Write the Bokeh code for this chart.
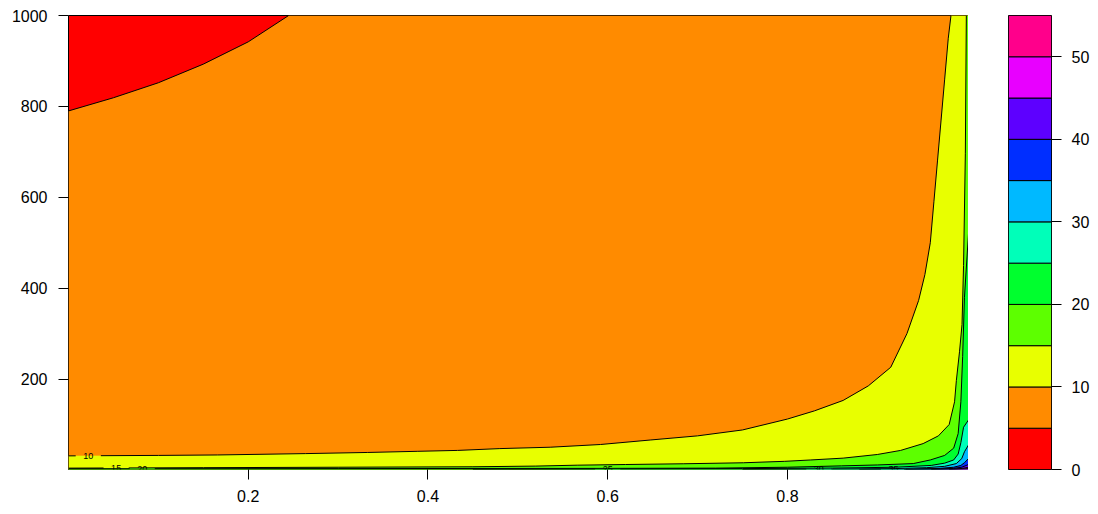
import numpy as np
from bokeh.plotting import figure
from bokeh.models import Range1d, FixedTicker
from bokeh.layouts import row
from bokeh.embed import file_html
from bokeh.resources import INLINE
from bokeh.core.properties import value

# ---- data ----
levels = [0, 5, 10, 15, 20, 25, 30, 35, 40, 45, 50, 55]
band_colors = ["#FF0000", "#FF8B00", "#E8FF00", "#5DFF00", "#00FF2E", "#00FFB9",
               "#00B9FF", "#002EFF", "#5D00FF", "#E800FF", "#FF008B"]

# contour lines (x, y); z >= level lies below/right of each curve
c5_x = [0.0, 0.05, 0.1, 0.15, 0.2, 0.245]
c5_y = [790, 819, 852, 893, 942, 1000]

c10_x = [0.0, 0.1, 0.166, 0.264, 0.333, 0.388, 0.433, 0.48, 0.536, 0.592, 0.648, 0.7,
         0.75, 0.8, 0.83, 0.862, 0.89, 0.915, 0.933, 0.946, 0.953, 0.959, 0.963, 0.967,
         0.971, 0.975, 0.979, 0.982]
c10_y = [31, 32, 33, 36, 38.5, 41, 43, 47, 50, 56, 66, 75, 88, 112, 130, 153, 185, 226,
         300, 373, 430, 500, 590, 680, 770, 860, 950, 1000]

c15_x = [0.0, 0.15, 0.3, 0.45, 0.52, 0.566, 0.62, 0.684, 0.751, 0.797, 0.826, 0.862,
         0.9, 0.926, 0.951, 0.968, 0.98, 0.986, 0.988, 0.9915, 0.9943, 0.996, 0.998, 0.9991]
c15_y = [4, 5, 6, 7, 8.5, 10.5, 12, 13.6, 15.8, 19, 22, 26, 34, 43, 58, 75, 100, 150,
         197, 260, 320, 450, 697, 1000]

c20_x = [0.0, 0.3, 0.6, 0.72, 0.8, 0.86, 0.9, 0.94, 0.959, 0.975, 0.985, 0.99, 0.993,
         0.995, 0.997, 1.0015]
c20_y = [2.6, 3, 3.5, 4, 6, 9, 11, 14, 22, 32, 48, 80, 150, 250, 380, 520]

c25_x = [0.45, 0.6, 0.75, 0.85, 0.92, 0.96, 0.975, 0.985, 0.99, 0.993, 0.996, 1.0015]
c25_y = [1, 2, 3, 4, 6, 10, 15, 22, 35, 60, 94, 110]

c30_x = [0.75, 0.85, 0.92, 0.955, 0.975, 0.988, 0.994, 0.997, 1.0015]
c30_y = [1, 2, 3, 5, 8, 14, 25, 40, 55]

c35_x = [0.88, 0.94, 0.97, 0.985, 0.993, 0.997, 1.0015]
c35_y = [1, 2, 3.5, 6, 10, 16, 25]

c40_x = [0.93, 0.97, 0.985, 0.994, 1.0015]
c40_y = [1, 2, 3.5, 6, 12]

c45_x = [0.96, 0.985, 0.995, 1.0015]
c45_y = [1, 2, 3.5, 6]

c50_x = [0.98, 0.993, 1.0015]
c50_y = [1, 2, 3]

curves = [(5, c5_x, c5_y), (10, c10_x, c10_y), (15, c15_x, c15_y), (20, c20_x, c20_y),
          (25, c25_x, c25_y), (30, c30_x, c30_y), (35, c35_x, c35_y),
          (40, c40_x, c40_y), (45, c45_x, c45_y), (50, c50_x, c50_y)]

# where R put the contour labels (x along the curve)
label_x = {10: 0.022, 15: 0.053, 20: 0.082, 25: 0.6, 30: 0.835, 35: 0.918}

x_ticks = [0.2, 0.4, 0.6, 0.8]
y_ticks = [200, 400, 600, 800, 1000]
bar_ticks = [0, 10, 20, 30, 40, 50]

XMIN, XMAX = 0.0, 1.0015
YMIN, YMAX = 1.0, 1000.0
FONT = "Liberation Sans"

# ---- main panel ----
p = figure(width=968, height=514, x_range=Range1d(XMIN, XMAX), y_range=Range1d(YMIN, YMAX),
           output_backend="svg", toolbar_location=None,
           min_border_left=68, min_border_right=0, min_border_top=15, min_border_bottom=45)
p.background_fill_color = band_colors[0]
p.border_fill_color = "white"
p.grid.visible = False
p.outline_line_color = "black"
p.outline_line_width = 1

for lev, cx, cy in curves:
    top = YMAX if cy[-1] >= YMAX else cy[-1]
    px = list(cx) + [XMAX, XMAX, cx[0]]
    py = list(cy) + [top, YMIN, YMIN]
    p.patch(px, py, fill_color=band_colors[levels.index(lev)], line_color=None)

GAP = 0.014
for lev, cx, cy in curves:
    cx = np.asarray(cx, float)
    cy = np.asarray(cy, float)
    if lev in label_x:
        xl = label_x[lev]
        a, b = xl - GAP, xl + GAP
        left = cx < a
        right = cx > b
        xs = list(cx[left]) + ([a] if a > cx[0] else []) + [np.nan] + ([b] if b > cx[0] else []) + list(cx[right])
        ys = list(cy[left]) + ([np.interp(a, cx, cy)] if a > cx[0] else []) + [np.nan] + ([np.interp(b, cx, cy)] if b > cx[0] else []) + list(cy[right])
        p.line(xs, ys, line_color="black", line_width=1)
        p.text(x=[xl], y=[np.interp(xl, cx, cy)], text=[str(lev)],
               text_font=value(FONT), text_font_size="9px", text_color="black",
               text_align="center", text_baseline="middle")
    else:
        p.line(cx, cy, line_color="black", line_width=1)

for ax in (p.xaxis[0], p.yaxis[0]):
    ax.axis_line_color = None
    ax.major_tick_line_color = "black"
    ax.major_tick_out = 10
    ax.major_tick_in = 0
    ax.minor_tick_line_color = None
    ax.major_label_text_font = FONT
    ax.major_label_text_font_size = "16px"
    ax.major_label_text_color = "black"
p.xaxis.ticker = FixedTicker(ticks=x_ticks)
p.yaxis.ticker = FixedTicker(ticks=y_ticks)
p.xaxis.major_label_standoff = 10
p.yaxis.major_label_standoff = 11
p.yaxis.major_label_orientation = "horizontal"

# ---- colour key ----
k = figure(width=130, height=514, x_range=Range1d(0, 1), y_range=Range1d(0, 55),
           output_backend="svg", toolbar_location=None, y_axis_location="right",
           min_border_left=40, min_border_right=47, min_border_top=15, min_border_bottom=45)
k.grid.visible = False
k.xaxis.visible = False
k.outline_line_color = "black"
k.quad(left=0, right=1, bottom=levels[:-1], top=levels[1:], fill_color=band_colors,
       line_color="black", line_width=1)
ky = k.yaxis[0]
ky.ticker = FixedTicker(ticks=bar_ticks)
ky.axis_line_color = None
ky.major_tick_line_color = "black"
ky.major_tick_out = 10
ky.major_tick_in = 0
ky.minor_tick_line_color = None
ky.major_label_text_font = FONT
ky.major_label_text_font_size = "16px"
ky.major_label_text_color = "black"
ky.major_label_standoff = 10

layout = row(p, k, spacing=0)
open("out.html", "w").write(file_html(layout, INLINE))
